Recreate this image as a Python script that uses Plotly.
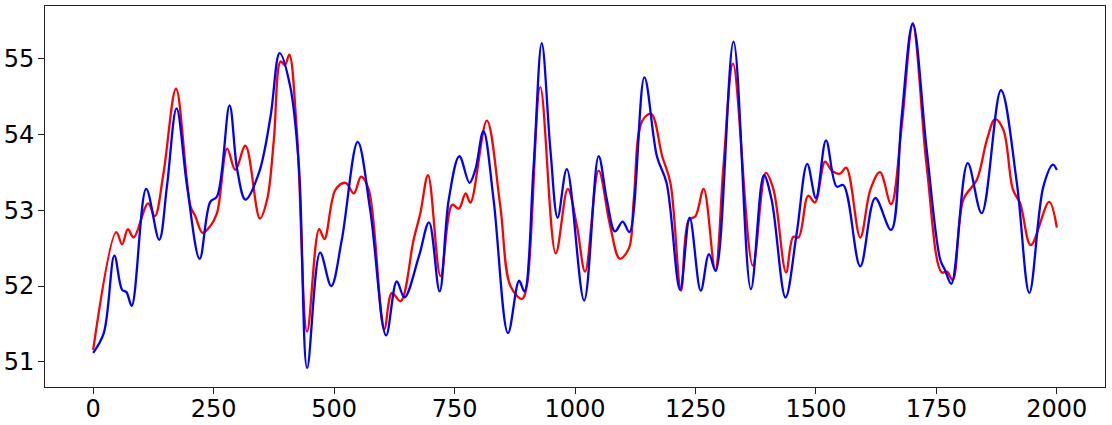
import plotly.graph_objects as go

# values (x position, level)
red_x = [0, 48, 60, 72, 84, 114, 128, 146, 172, 202, 212, 227, 243, 257, 278, 295, 316,
         346, 361, 375, 389, 398, 407, 423, 444, 469, 480, 503, 524, 541, 556, 572, 604,
         620, 638, 665, 679, 695, 721, 745, 759, 773, 783, 817, 845, 866, 890, 900, 928,
         960, 985, 1004, 1021, 1049, 1073, 1093, 1112, 1122, 1139, 1158, 1181, 1198, 1220,
         1236, 1250, 1267, 1291, 1308, 1328, 1369, 1396, 1412, 1438, 1453, 1464, 1484, 1498,
         1519, 1533, 1550, 1563, 1592, 1613, 1633, 1656, 1678, 1701, 1730, 1761, 1772, 1784,
         1806, 1834, 1855, 1872, 1889, 1909, 1924, 1946, 1984, 2000]
red_y = [51.16, 52.71, 52.55, 52.75, 52.64, 53.09, 52.92, 53.49, 54.60, 53.05, 52.92, 52.70,
         52.79, 52.96, 53.81, 53.53, 53.85, 52.89, 53.14, 53.93, 54.96, 54.91, 55.05, 54.01,
         51.40, 52.75, 52.62, 53.27, 53.36, 53.22, 53.44, 53.27, 51.43, 51.91, 51.80, 52.61,
         52.96, 53.46, 52.13, 53.07, 53.02, 53.22, 53.10, 54.18, 53.05, 52.00, 51.83, 52.00,
         54.62, 52.43, 53.28, 52.79, 52.19, 53.52, 52.79, 52.36, 52.50, 53.14, 54.17, 54.27,
         53.71, 53.36, 51.94, 52.87, 52.92, 53.28, 52.21, 53.57, 54.93, 52.27, 53.49, 53.27,
         52.18, 52.65, 52.64, 53.19, 53.10, 53.64, 53.52, 53.48, 53.56, 52.64, 53.27, 53.50,
         53.08, 54.10, 55.44, 53.57, 52.18, 52.19, 52.08, 53.14, 53.40, 53.93, 54.20, 54.06,
         53.27, 53.09, 52.54, 53.11, 52.77]

blue_x = [0, 22, 44, 60, 69, 80, 110, 137, 153, 173, 195, 221, 243, 257, 283, 299, 316,
          344, 368, 387, 409, 427, 444, 471, 494, 516, 549, 575, 608, 630, 646, 676, 697,
          719, 738, 760, 781, 793, 810, 831, 861, 884, 895, 914, 931, 949, 964, 983, 1019,
          1049, 1066, 1083, 1099, 1113, 1144, 1170, 1190, 1218, 1238, 1261, 1278, 1292, 1329,
          1365, 1392, 1408, 1437, 1460, 1482, 1500, 1521, 1543, 1557, 1592, 1623, 1656, 1678,
          1701, 1730, 1758, 1768, 1781, 1815, 1844, 1884, 1917, 1943, 1972, 1992, 2000]
blue_y = [51.12, 51.38, 52.40, 51.95, 51.92, 51.74, 53.28, 52.61, 53.31, 54.34, 53.31, 52.36,
          53.11, 53.18, 54.38, 53.53, 53.14, 53.49, 54.23, 55.07, 54.63, 53.57, 50.92, 52.44,
          52.00, 52.61, 53.90, 53.00, 51.35, 52.06, 51.85, 52.39, 52.84, 51.93, 53.14, 53.71,
          53.36, 53.53, 54.04, 53.14, 51.38, 52.07, 51.93, 53.57, 55.20, 53.79, 52.90, 53.54,
          51.81, 53.71, 53.14, 52.72, 52.85, 52.71, 54.75, 53.71, 53.36, 51.95, 52.90, 51.94,
          52.42, 52.20, 55.22, 51.96, 53.46, 53.14, 51.85, 52.69, 53.61, 53.16, 53.92, 53.31,
          53.33, 52.26, 53.16, 52.74, 54.23, 55.46, 53.79, 52.35, 52.21, 52.03, 53.62, 52.96,
          54.58, 53.36, 51.91, 53.31, 53.60, 53.53]

x_ticks = [0, 250, 500, 750, 1000, 1250, 1500, 1750, 2000]
y_ticks = [51, 52, 53, 54, 55]

fig = go.Figure()

fig.add_trace(go.Scatter(
    x=red_x, y=red_y, mode='lines',
    line=dict(color='#ff0000', width=2.3, shape='spline', smoothing=1.0),
    showlegend=False
))
fig.add_trace(go.Scatter(
    x=blue_x, y=blue_y, mode='lines',
    line=dict(color='#0000ff', width=2.3, shape='spline', smoothing=1.0),
    showlegend=False
))

axis_style = dict(
    showline=True, mirror=True, linecolor='#222', linewidth=1,
    ticks='outside', ticklen=6, tickcolor='#222', tickwidth=1,
    showgrid=False, zeroline=False, automargin=False,
    tickfont=dict(family='DejaVu Sans', size=24, color='black'),
)

fig.update_layout(
    width=1112, height=425,
    margin=dict(l=45, r=7, t=6, b=38),
    plot_bgcolor='white', paper_bgcolor='white',
    xaxis=dict(range=[-100, 2100], tickvals=x_ticks, ticklabelstandoff=-6, **axis_style),
    yaxis=dict(range=[50.67, 55.69], tickvals=y_ticks, ticklabelstandoff=-1, **axis_style),
)

# page body has a default 8px margin; remove it so the figure sits at the corner
fig.write_html("out.html", config={'displayModeBar': False},
               post_script="document.body.style.margin='0';")
